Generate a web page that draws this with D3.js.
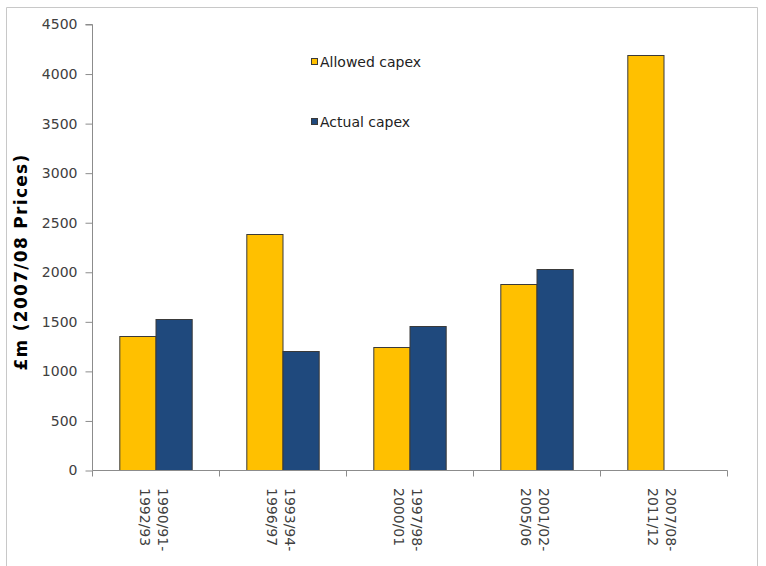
<!DOCTYPE html>
<html>
<head>
<meta charset="utf-8">
<script src="https://cdn.jsdelivr.net/npm/d3@7"></script>
<style>
  html, body { margin: 0; padding: 0; background: #fff; }
  svg { display: block; font-family: "DejaVu Sans", Verdana, sans-serif; }
</style>
</head>
<body>
<svg id="chart" width="766" height="566"></svg>
<script>
// Price-control periods
const periods = [
  ["1990/91-", "1992/93"],
  ["1993/94-", "1996/97"],
  ["1997/98-", "2000/01"],
  ["2001/02-", "2005/06"],
  ["2007/08-", "2011/12"]
];
const seriesNames = ["Allowed capex", "Actual capex"];
const allowedCapex = [1355, 2381, 1244, 1874, 4185];
const actualCapex = [1521, 1201, 1456, 2025, null];
const yTicks = [0, 500, 1000, 1500, 2000, 2500, 3000, 3500, 4000, 4500];
const seriesColors = ["#FFC000", "#1F497D"];

(function draw() {
  const svg = d3.select("#chart");
  const axisColor = "#8c8c8c";
  const textColor = "#404040";

  // outer frame
  svg.append("path")
    .attr("d", "M6.5,566 V7.5 H757.5 V566")
    .attr("fill", "none")
    .attr("stroke", "#c8c8c8");

  const plotLeft = 92, plotRight = 727, plotTop = 24, plotBottom = 470;
  const cats = periods.map(p => p.join(""));

  const x0 = d3.scaleBand().domain(cats).range([plotLeft, plotRight]).padding(0);
  const x1 = d3.scaleBand().domain(seriesNames)
    .range([x0.bandwidth() * 0.215, x0.bandwidth() * 0.785]).padding(0);
  const y = d3.scaleLinear().domain([0, 4500]).range([plotBottom, plotTop]);

  const rows = cats.map((c, i) => ({
    cat: c,
    vals: [
      { s: seriesNames[0], v: allowedCapex[i], c: seriesColors[0] },
      { s: seriesNames[1], v: actualCapex[i], c: seriesColors[1] }
    ].filter(d => d.v != null)
  }));

  // bars
  svg.append("g").selectAll("g.grp").data(rows).join("g")
    .attr("class", "grp")
    .attr("transform", d => `translate(${x0(d.cat)},0)`)
    .selectAll("rect").data(d => d.vals).join("rect")
    .attr("x", d => x1(d.s) + 0.5)
    .attr("width", x1.bandwidth())
    .attr("y", d => Math.round(y(d.v)) + 0.5)
    .attr("height", d => plotBottom - Math.round(y(d.v)))
    .attr("fill", d => d.c)
    .attr("stroke", "#3a3a3a")
    .attr("stroke-width", 1);

  // y axis
  const yAxis = svg.append("g")
    .attr("transform", `translate(${plotLeft + 0.5},0.5)`)
    .call(d3.axisLeft(y).tickValues(yTicks).tickSize(7).tickPadding(8).tickFormat(d3.format("d")));
  yAxis.select(".domain").attr("stroke", axisColor).attr("d", `M-7,${plotTop}H0V${plotBottom}`);
  yAxis.selectAll(".tick line").attr("stroke", axisColor);
  yAxis.selectAll(".tick text")
    .attr("fill", textColor)
    .style("font-size", "14px")
    .style("font-family", "'DejaVu Sans', Verdana, sans-serif");

  // x axis line and category boundary ticks
  const xAxis = svg.append("g").attr("transform", "translate(0.5,0.5)");
  xAxis.append("line")
    .attr("x1", plotLeft).attr("x2", plotRight)
    .attr("y1", plotBottom).attr("y2", plotBottom)
    .attr("stroke", axisColor);
  const bounds = cats.map(c => x0(c)).concat([x0(cats[cats.length - 1]) + x0.bandwidth()]);
  xAxis.selectAll("line.tk").data(bounds).join("line")
    .attr("class", "tk")
    .attr("x1", d => Math.round(d)).attr("x2", d => Math.round(d))
    .attr("y1", plotBottom).attr("y2", plotBottom + 6)
    .attr("stroke", axisColor);

  // rotated category labels
  const lbl = svg.append("g").selectAll("text").data(periods).join("text")
    .attr("transform", (d, i) => `translate(${x0(cats[i]) + x0.bandwidth() / 2},488) rotate(90)`)
    .attr("fill", textColor)
    .style("font-size", "14px");
  lbl.append("tspan").attr("x", 0).attr("y", -2).text(d => d[0]);
  lbl.append("tspan").attr("x", 0).attr("y", 16).text(d => d[1]);

  // y axis title
  svg.append("text")
    .attr("transform", "translate(27,262) rotate(-90)")
    .attr("text-anchor", "middle")
    .attr("fill", "#000")
    .style("font-size", "17px")
    .style("font-weight", "bold")
    .style("letter-spacing", "1.3px")
    .text("£m (2007/08 Prices)");

  // legend
  const legend = svg.append("g").selectAll("g").data(seriesNames).join("g")
    .attr("transform", (d, i) => `translate(311,${62 + i * 60})`);
  legend.append("rect")
    .attr("x", 0.5).attr("y", -3.5)
    .attr("width", 6).attr("height", 6)
    .attr("fill", (d, i) => seriesColors[i])
    .attr("stroke", "#3a3a3a");
  legend.append("text")
    .attr("x", 9).attr("y", 5)
    .attr("fill", "#222")
    .style("font-size", "14px")
    .text(d => d);
})();
</script>
</body>
</html>
